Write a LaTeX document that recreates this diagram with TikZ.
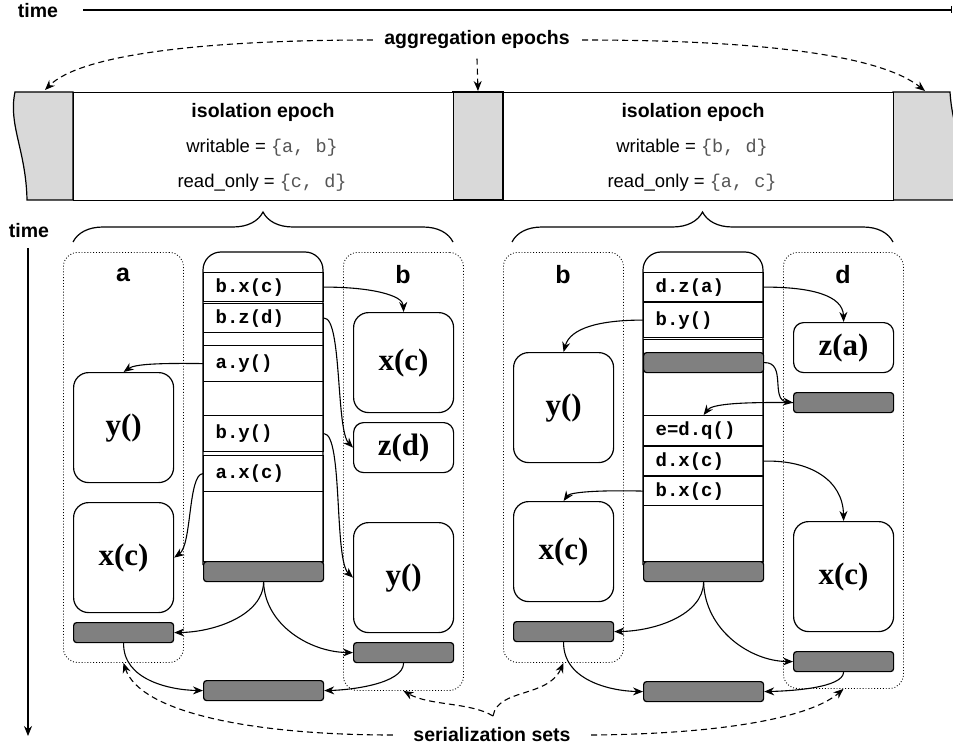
\documentclass[tikz,border=0pt]{standalone}
\usepackage{fontspec}
\setmainfont{Liberation Sans}
\newfontfamily\codefont{Liberation Mono}
\newfontfamily\methfont{Liberation Serif}
\usetikzlibrary{arrows.meta,decorations.pathreplacing}

\definecolor{bandgray}{HTML}{D9D9D9}
\definecolor{bargray}{HTML}{808080}
\definecolor{setgray}{HTML}{555555}

\newcommand{\setlist}[1]{{\codefont\color{setgray}#1}}

\tikzset{
  lbl/.style={font=\fontsize{19.5}{22}\selectfont\bfseries, inner sep=0pt},
  eptext/.style={font=\fontsize{18.5}{21}\selectfont, inner sep=0pt},
  colname/.style={font=\fontsize{25}{28}\selectfont\bfseries, inner sep=0pt},
  callrow/.style={draw, anchor=north west, minimum width=120pt, text width=96pt,
    inner xsep=12pt, inner ysep=0pt, align=left,
    font=\codefont\bfseries\fontsize{19}{21}\selectfont},
  bar/.style={draw, fill=bargray, rounded corners=3pt, minimum width=100pt,
    minimum height=20pt, inner sep=0pt, anchor=north west},
  method/.style={draw, rounded corners=15pt, minimum width=100pt, inner sep=0pt,
    anchor=north west, font=\methfont\bfseries\fontsize{31}{34}\selectfont},
  group/.style={draw, dotted, line width=0.9pt, rounded corners=14pt,
    minimum width=120pt, inner sep=0pt, anchor=north west},
  arr/.style={-{Stealth[length=10pt,width=8pt]}, line width=1.1pt},
  darr/.style={arr, dash pattern=on 6pt off 4pt},
}

\begin{document}
\begin{tikzpicture}[x=1pt, y=-1pt, line width=1.2pt]
\useasboundingbox (0,0) rectangle (953,746);
\fill[white] (0,0) rectangle (953,746);

% ---------- horizontal time axis ----------
\node[lbl] (timeh) at (38,11) {time};
\coordinate (timehend) at (952,10);
\draw[line width=1.1pt, -{Bar[width=7pt]}] (83,10) -- (timehend);

% ---------- epoch band ----------
\draw[fill=bandgray] (73,92) -- (15,92) .. controls (8,125) and (26,150) .. (27,200) -- (73,200) -- cycle;
\draw[fill=bandgray] (453,92) rectangle (503,200);
\draw[fill=bandgray] (893,92) -- (950,92) .. controls (951,108) and (954,122) .. (958,135) -- (958,200) -- (893,200) -- cycle;
\node[draw, fill=white, minimum width=380pt, minimum height=108pt, inner sep=0pt, anchor=north west] (ep1) at (73,92) {};
\node[draw, fill=white, minimum width=390pt, minimum height=108pt, inner sep=0pt, anchor=north west] (ep2) at (503,92) {};
\coordinate (agleft) at (45,90);
\coordinate (agmid) at (478,91);
\coordinate (agright) at (925,91);

\node[lbl] (iso1) at (263,112) {isolation epoch};
\node[eptext] (wr1) at (262,148) {writable = \setlist{\{a, b\}}};
\node[eptext] (ro1) at (262,183) {read\_only = \setlist{\{c, d\}}};
\node[lbl] (iso2) at (693,112) {isolation epoch};
\node[eptext] (wr2) at (692,148) {writable = \setlist{\{b, d\}}};
\node[eptext] (ro2) at (692,183) {read\_only = \setlist{\{a, c\}}};

% ---------- aggregation epochs ----------
\node[lbl] (agg) at (477,40) {aggregation epochs};
\draw[darr] ([xshift=-11pt]agg.west) .. controls (200,40) and (80,55) .. (agleft);
\draw[darr] ([xshift=12pt]agg.east) .. controls (760,40) and (880,55) .. (agright);
\draw[darr] (agg.south) ++(0,9) -- (agmid);

% ---------- braces ----------
\draw[decorate, decoration={brace, amplitude=30pt}] (73,242) -- (453,242);
\draw[decorate, decoration={brace, amplitude=30pt}] (512,242) -- (893,242);

% ---------- vertical time axis ----------
\node[lbl] (timev) at (29,231) {time};
\coordinate (timevend) at (28,736);
\draw[arr] (28,248) -- (timevend);

% =============== first isolation epoch ===============
\node[group, minimum height=410pt] (grpa) at (63,252) {};
\node[group, minimum height=438pt] (grpb) at (343,252) {};
\node[colname] (na) at (123,275) {a};
\node[colname] (nb) at (403,275) {b};

% call column
\draw[rounded corners=18pt] (203,565) -- (203,252) -- (323,252) -- (323,565);
\node[callrow, minimum height=29pt] (bxc) at (203,272) {b.x(c)};
\node[callrow, minimum height=29pt] (bzd) at (203,303) {b.z(d)};
\node[callrow, minimum height=13pt] (lgap1) at (203,332) {};
\node[callrow, minimum height=36pt] (ay) at (203,345) {a.y()};
\node[callrow, minimum height=34pt] (lgap2) at (203,381) {};
\node[callrow, minimum height=36pt] (by) at (203,415) {b.y()};
\node[callrow, minimum height=36pt] (axc) at (203,455) {a.x(c)};
\node[callrow, minimum height=70pt] (lgap3) at (203,491) {};
\node[bar, minimum width=120pt] (g1) at (203,561) {};

% object a
\node[method, minimum height=110pt] (ya) at (73,372) {y()};
\node[method, minimum height=110pt] (xca) at (73,502) {x(c)};
\node[bar] (ga) at (73,622) {};

% object b
\node[method, minimum height=100pt] (xcb) at (353,312) {x(c)};
\node[method, minimum height=50pt, rounded corners=10pt] (zd) at (353,422) {z(d)};
\node[method, minimum height=110pt] (yb) at (353,522) {y()};
\node[bar] (gb) at (353,642) {};

\node[bar, minimum width=120pt] (m1) at (203,680) {};

\draw[arr] (bxc.east) .. controls (370,287) and (403,295) .. (xcb.north);
\draw[arr] (bzd.east) .. controls (342,318) and (336,430) .. (zd.west);
\draw[arr] (ay.west) .. controls (160,363) and (135,364) .. (ya.north);
\draw[arr] (by.east) .. controls (343,435) and (334,560) .. (yb.west);
\draw[arr] (axc.west) .. controls (188,474) and (192,545) .. (xca.east);
\draw[arr] (g1.south) .. controls (263,615) and (215,632) .. (ga.east);
\draw[arr] (g1.south) .. controls (265,625) and (310,652) .. (gb.west);
\draw[arr] (ga.south) .. controls (123,680) and (170,690) .. (m1.west);
\draw[arr] (gb.south) .. controls (403,684) and (350,690) .. (m1.east);

% =============== second isolation epoch ===============
\node[group, minimum height=410pt] (grpb2) at (503,252) {};
\node[group, minimum height=436pt] (grpd) at (783,252) {};
\node[colname] (nb2) at (563,275) {b};
\node[colname] (nd) at (843,275) {d};

\draw[rounded corners=18pt] (643,565) -- (643,252) -- (763,252) -- (763,565);
\node[callrow, minimum height=29pt] (dza) at (643,272) {d.z(a)};
\node[callrow, minimum height=35pt] (by2) at (643,302) {b.y()};
\node[callrow, minimum height=76pt] (rgap1) at (643,339) {};
\node[bar, minimum width=120pt] (g2top) at (643,352) {};
\node[callrow, minimum height=30pt] (edq) at (643,415) {e=d.q()};
\node[callrow, minimum height=29pt] (dxc) at (643,446) {d.x(c)};
\node[callrow, minimum height=29pt] (bxc2) at (643,476) {b.x(c)};
\node[callrow, minimum height=56pt] (rgap2) at (643,505) {};
\node[bar, minimum width=120pt] (g2) at (643,561) {};

% object b
\node[method, minimum height=110pt] (y2) at (513,352) {y()};
\node[method, minimum height=100pt] (xc2) at (513,501) {x(c)};
\node[bar] (gb2) at (513,621) {};

% object d
\node[method, minimum height=50pt, rounded corners=10pt] (za) at (793,322) {z(a)};
\node[bar] (gd1) at (793,392) {};
\node[method, minimum height=110pt] (xcd) at (793,521) {x(c)};
\node[bar] (gd2) at (793,651) {};

\node[bar, minimum width=120pt] (m2) at (643,681) {};

\draw[arr] (dza.east) .. controls (810,287) and (843,295) .. (za.north);
\draw[arr] (by2.west) .. controls (600,320) and (570,328) .. (y2.north);
\draw[arr] (g2top.east) .. controls (787,362) and (770,400) .. (gd1.west);
\draw[arr] (gd1.west) .. controls (740,402) and (712,404) .. (edq.north);
\draw[arr] (dxc.east) .. controls (810,460) and (843,480) .. (xcd.north);
\draw[arr] (bxc2.west) .. controls (600,490) and (570,492) .. (xc2.north);
\draw[arr] (g2.south) .. controls (703,615) and (655,631) .. (gb2.east);
\draw[arr] (g2.south) .. controls (705,630) and (750,661) .. (gd2.west);
\draw[arr] (gb2.south) .. controls (563,680) and (610,691) .. (m2.west);
\draw[arr] (gd2.south) .. controls (843,688) and (790,691) .. (m2.east);

% ---------- serialization sets ----------
\node[lbl] (ser) at (492,735) {serialization sets};
\coordinate (serfork) at (493,716);
\draw[darr] ([xshift=-20pt]ser.west) .. controls (250,735) and (140,712) .. (grpa.south);
\draw[darr] ([xshift=20pt]ser.east) .. controls (720,734) and (810,718) .. (grpd.south);
\draw[darr] (serfork) .. controls (470,702) and (430,706) .. (grpb.south);
\draw[darr] (serfork) .. controls (498,688) and (548,698) .. (grpb2.south);
\end{tikzpicture}
\end{document}
